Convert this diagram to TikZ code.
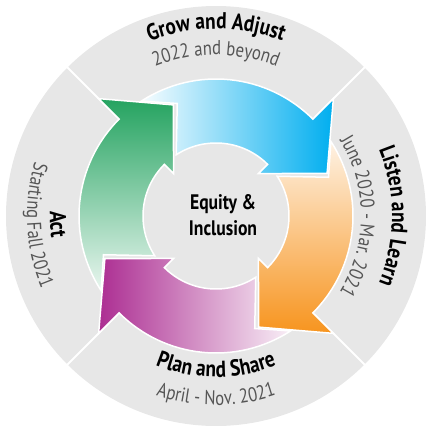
\documentclass[tikz,border=0pt]{standalone}
\usepackage{fontspec}
\setmainfont{PT Sans}[FakeStretch=0.84]
\usetikzlibrary{decorations.text}

\definecolor{ringgray}{RGB}{231,231,231}
\definecolor{blueA}{RGB}{0,174,239}
\definecolor{orangeA}{RGB}{247,148,30}
\definecolor{purpleA}{RGB}{172,46,146}
\definecolor{greenA}{RGB}{36,163,96}
\definecolor{dategray}{RGB}{85,85,85}

\newcommand{\stagefont}{\bfseries\fontsize{23}{25}\selectfont}
\newcommand{\datefont}{\fontsize{20}{22}\selectfont}

\begin{document}
\begin{tikzpicture}[x=1pt, y=1pt,
    arrowedge/.style={draw=white, line width=1.5pt, line join=miter},
    stagetext/.style={decorate, decoration={text along path, text align=center, text={|\stagefont|#1}}},
    datetext/.style={decorate, decoration={text along path, text align=center, text color=dategray, text={|\datefont|#1}}}]
    \useasboundingbox (-216,-213) rectangle (213,216);

    % disc and ring dividers
    \fill[ringgray] (0,0) circle (210);
    \foreach \a in {45,135,225,315}
        \draw[white, line width=2pt] (\a:140) -- (\a:212);

    % the four arrows, head base angle / head colour / tail colour / shading angle
    \foreach \h/\hc/\tc/\ang in {45/blueA/blueA!3/-90, -45/orangeA/orangeA!12/180, -135/purpleA/purpleA!8/90, 135/greenA/greenA!10/0}
        \draw[arrowedge, top color=\hc, bottom color=\tc, shading angle=\ang]
            ({\h+78}:137) arc[start angle=\h+78, end angle=\h, radius=137]
            -- (\h:166) -- ({\h-24}:119) -- (\h:60) -- (\h:73)
            arc[start angle=\h, end angle=\h+78, radius=73]
            -- ({\h+64}:119) -- cycle;

    % centre
    \node[align=center, font=\bfseries\fontsize{21}{26}\selectfont] (core) at (7,1) {Equity \&\\Inclusion};

    % stage labels
    \path[stagetext={Grow and Adjust}] (160:187) arc[start angle=160, end angle=20, radius=187];
    \path[datetext={2022 and beyond}] (160:161) arc[start angle=160, end angle=20, radius=161];

    \path[stagetext={Listen and Learn}] (70:176) arc[start angle=70, end angle=-70, radius=176];
    \path[datetext={June 2020 - Mar. 2021}] (70:145) arc[start angle=70, end angle=-70, radius=145];

    \path[stagetext={Plan and Share}] (200:161) arc[start angle=200, end angle=340, radius=161];
    \path[datetext={April - Nov. 2021}] (200:189) arc[start angle=200, end angle=340, radius=189];

    \path[stagetext={Act}] (113:166) arc[start angle=113, end angle=253, radius=166];
    \path[datetext={Starting Fall 2021}] (113:189) arc[start angle=113, end angle=253, radius=189];
\end{tikzpicture}
\end{document}
